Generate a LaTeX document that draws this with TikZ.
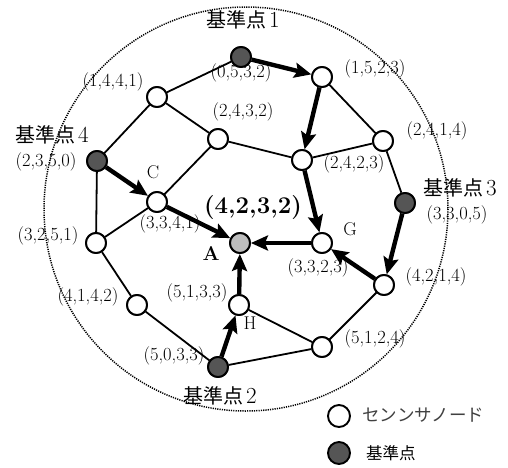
\documentclass[tikz,border=0pt]{standalone}
\usepackage{fontspec}
\newfontfamily\jpfont{Noto Sans CJK JP}
\usetikzlibrary{arrows.meta}
\definecolor{refdark}{HTML}{555555}
\definecolor{reflight}{HTML}{BDBDBD}
\tikzset{
  sensor/.style={circle,draw=black,line width=1.9pt,fill=white,minimum size=20pt,inner sep=0pt},
  refpt/.style={sensor,fill=refdark},
  target/.style={sensor,fill=reflight},
  lab/.style={inner sep=0pt,font=\fontsize{18.5}{18.5}\selectfont},
  jlab/.style={inner sep=0pt,font=\jpfont\fontsize{20}{20}\selectfont},
  link/.style={line width=1.8pt},
  hop/.style={line width=4.4pt,-{Stealth[length=17pt,width=15pt,inset=3pt]}},
  boundary/.style={line width=1.5pt,dash pattern=on 1.2pt off 1.1pt}
}
\newcommand{\refnum}[1]{\hspace{3pt}{\rmfamily\fontsize{23}{23}\selectfont #1}}
\begin{document}
\begin{tikzpicture}[x=1pt,y=-1pt]
\useasboundingbox (0,0) rectangle (508,467);
\draw[boundary] (246,209) circle (202);
% nodes
\node[refpt] (R1) at (241,57) {};
\node[sensor] (n1523) at (322,77) {};
\node[sensor] (n1441) at (157,97) {};
\node[sensor] (n2432) at (218,139) {};
\node[sensor] (n2414) at (383,141) {};
\node[sensor] (n2423) at (302,160) {};
\node[refpt] (R4) at (97,161) {};
\node[sensor] (C) at (157,202) {};
\node[refpt] (R3) at (405,203) {};
\node[sensor] (G) at (322,243) {};
\node[target] (A) at (240,243) {};
\node[sensor] (n3251) at (96,243) {};
\node[sensor] (n4214) at (384,285) {};
\node[sensor] (n4142) at (137,305) {};
\node[sensor] (H) at (239,305) {};
\node[sensor] (n5124) at (322,347) {};
\node[refpt] (R2) at (218,367) {};
% thin links
\draw[link] (R1) -- (n1441);
\draw[link] (n1441) -- (n2432);
\draw[link] (n1441) -- (R4);
\draw[link] (n2432) -- (n2423);
\draw[link] (n2432) -- (C);
\draw[link] (n1523) -- (n2414);
\draw[link] (n2414) -- (n2423);
\draw[link] (n2414) -- (R3);
\draw[link] (R4) -- (n3251);
\draw[link] (C) -- (n3251);
\draw[link] (n4214) -- (n5124);
\draw[link] (n3251) -- (n4142);
\draw[link] (n4142) -- (R2);
\draw[link] (H) -- (n5124);
\draw[link] (R2) -- (n5124);
% hop arrows
\draw[hop] (R1) -- (n1523);
\draw[hop] (n1523) -- (n2423);
\draw[hop] (n2423) -- (G);
\draw[hop] (R4) -- (C);
\draw[hop] (C) -- (A);
\draw[hop] (G) -- (A);
\draw[hop] (R3) -- (n4214);
\draw[hop] (n4214) -- (G);
\draw[hop] (R2) -- (H);
\draw[hop] (H) -- (A);
% redraw nodes on top
\foreach \n in {R1,R2,R3,R4} \node[refpt] at (\n) {};
\foreach \n in {n1523,n1441,n2432,n2414,n2423,C,G,n3251,n4214,n4142,H,n5124} \node[sensor] at (\n) {};
\node[target] at (A) {};
% labels
\node[lab] (l1) at (241,73) {(0,5,3,2)};
\node[lab] (l2) at (375,69) {(1,5,2,3)};
\node[lab] (l3) at (113,82) {(1,4,4,1)};
\node[lab] (l4) at (243,112) {(2,4,3,2)};
\node[lab] (l5) at (437,131) {(2,4,1,4)};
\node[lab] (l6) at (354,164) {(2,4,2,3)};
\node[lab] (l7) at (46,162) {(2,3,5,0)};
\node[lab] (lC) at (153,172) {C};
\node[lab] (l8) at (170,224) {(3,3,4,1)};
\node[inner sep=0pt,font=\fontsize{24}{24}\selectfont\bfseries] (lA2) at (253,208) {(4,2,3,2)};
\node[inner sep=0pt,font=\fontsize{20}{20}\selectfont\bfseries] (lA) at (211,253) {A};
\node[lab] (lG) at (350,229) {G};
\node[lab] (l9) at (318,268) {(3,3,2,3)};
\node[lab] (l10) at (197,293) {(5,1,3,3)};
\node[lab] (lH) at (250,323) {H};
\node[lab] (l11) at (457,215) {(3,3,0,5)};
\node[lab] (l12) at (48,236) {(3,2,5,1)};
\node[lab] (l13) at (436,277) {(4,2,1,4)};
\node[lab] (l14) at (88,297) {(4,1,4,2)};
\node[lab] (l15) at (174,356) {(5,0,3,3)};
\node[lab] (l16) at (375,339) {(5,1,2,4)};
\node[jlab] (k1) at (243,20) {基準点\refnum{1}};
\node[jlab] (k4) at (52,135) {基準点\refnum{4}};
\node[jlab] (k3) at (460,188) {基準点\refnum{3}};
\node[jlab] (k2) at (220,396) {基準点\refnum{2}};
% legend
\node[sensor,minimum size=22pt] (legS) at (339,416) {};
\node[refpt,minimum size=22pt] (legR) at (339,453) {};
\node[jlab,anchor=west,font=\jpfont\fontsize{17.5}{17.5}\selectfont\color{black!75}] (legSt) at (362,415) {センンサノード};
\node[jlab,anchor=west,font=\jpfont\fontsize{16.5}{16.5}\selectfont] (legRt) at (366,453) {基準点};
\end{tikzpicture}
\end{document}
